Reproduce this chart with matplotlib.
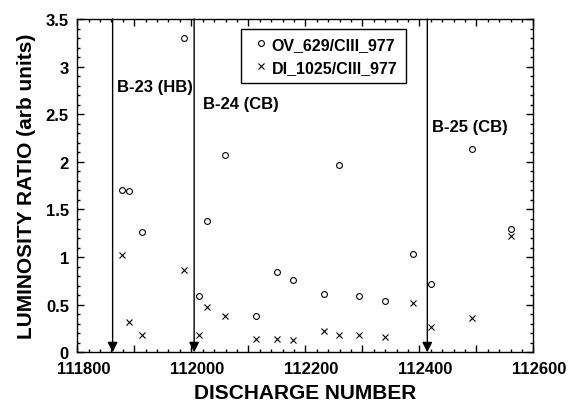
import matplotlib
matplotlib.use("Agg")
import matplotlib.pyplot as plt
import matplotlib.transforms as mtransforms
from matplotlib.ticker import MultipleLocator, FuncFormatter

plt.rcParams["font.family"] = ["Liberation Sans", "DejaVu Sans"]
plt.rcParams["font.weight"] = "bold"

# discharge numbers (shared by both series)
shots = [111878, 111891, 111914, 111988, 112013, 112027, 112059, 112114, 112151,
         112179, 112232, 112259, 112294, 112340, 112389, 112421, 112493, 112560]
ov_ratio = [1.70, 1.69, 1.26, 3.30, 0.594, 1.38, 2.07, 0.385, 0.846,
            0.762, 0.615, 1.967, 0.594, 0.542, 1.029, 0.72, 2.135, 1.30]
di_ratio = [1.022, 0.315, 0.18, 0.864, 0.18, 0.475, 0.38, 0.136, 0.136,
            0.126, 0.224, 0.18, 0.18, 0.157, 0.517, 0.262, 0.36, 1.224]

boron_shots = [111862, 112005, 112414]
boron_labels = ["B-23 (HB)", "B-24 (CB)", "B-25 (CB)"]
label_x = [111869, 112021, 112422]
label_y = [2.79, 2.61, 2.37]

fig = plt.figure(figsize=(5.81, 4.14), dpi=100)
ax = fig.add_axes([0.133, 0.1466, 0.785, 0.805])

ax.plot(shots, ov_ratio, linestyle="none", marker="o", markersize=4.2,
        markerfacecolor="none", markeredgecolor="black", markeredgewidth=0.8,
        label="OV_629/CIII_977")
ax.plot(shots, di_ratio, linestyle="none", marker="x", markersize=5,
        color="black", markeredgewidth=0.8, label="DI_1025/CIII_977")

for xs in boron_shots:
    ax.annotate("", xy=(xs, 0), xytext=(xs, 3.5),
                arrowprops=dict(arrowstyle="-|>,head_length=0.6,head_width=0.3",
                                mutation_scale=10, color="black", lw=1,
                                shrinkA=0, shrinkB=0))
for t, lx, ly in zip(boron_labels, label_x, label_y):
    ax.text(lx, ly, t, fontsize=12, fontweight="bold", va="center", ha="left")

ax.set_xlim(111800, 112600)
ax.set_ylim(0, 3.5)
ax.xaxis.set_major_locator(MultipleLocator(100))
ax.xaxis.set_minor_locator(MultipleLocator(20))
ax.xaxis.set_major_formatter(FuncFormatter(lambda v, p: "%d" % v if round(v) % 200 == 0 else ""))
ax.yaxis.set_major_locator(MultipleLocator(0.5))
ax.yaxis.set_minor_locator(MultipleLocator(0.1))
ax.yaxis.set_major_formatter(FuncFormatter(lambda v, p: "%g" % v))

ax.tick_params(which="both", direction="in", top=True, right=True, width=1,
               labelsize=12, pad=6)
ax.tick_params(which="major", length=5)
ax.tick_params(which="minor", length=2.5)
for s in ax.spines.values():
    s.set_linewidth(1)

# x tick labels in the original sit a little right of their ticks
shift = mtransforms.ScaledTranslation(6 / 100, 0, fig.dpi_scale_trans)
for lab in ax.get_xticklabels():
    lab.set_transform(lab.get_transform() + shift)

ax.set_xlabel("DISCHARGE NUMBER", fontsize=15, fontweight="bold", labelpad=5)
ax.set_ylabel("LUMINOSITY RATIO (arb units)", fontsize=15, fontweight="bold", labelpad=7)

leg = ax.legend(loc="upper left", bbox_to_anchor=(0.36, 0.97), borderaxespad=0,
                fancybox=False, framealpha=1, edgecolor="black", fontsize=11.5,
                handlelength=1.4, handletextpad=0.0, borderpad=0.5, labelspacing=0.5)
leg.get_frame().set_linewidth(1)

fig.savefig("out.png", dpi=100)
